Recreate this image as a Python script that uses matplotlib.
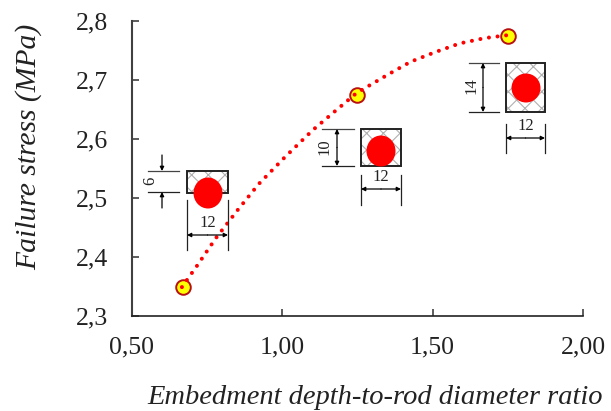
import matplotlib
matplotlib.use("Agg")
import matplotlib.pyplot as plt
from matplotlib.patches import Rectangle, Ellipse

plt.rcParams['font.family'] = ['Liberation Serif', 'DejaVu Serif']
plt.rcParams['hatch.linewidth'] = 0.8

ratio_points = [0.67, 1.25, 1.75]
stress_points = [2.35, 2.675, 2.775]
curve_ratio = [0.666, 0.716, 0.779, 0.852, 0.922, 1.008, 1.101, 1.168, 1.247,
               1.354, 1.427, 1.507, 1.59, 1.673, 1.749]
curve_stress = [2.349, 2.385, 2.432, 2.480, 2.524, 2.569, 2.615, 2.644, 2.678,
                2.710, 2.731, 2.747, 2.762, 2.771, 2.776]
x_ticks = [0.5, 1.0, 1.5, 2.0]
x_labels = ['0,50', '1,00', '1,50', '2,00']
y_ticks = [2.3, 2.4, 2.5, 2.6, 2.7, 2.8]
y_labels = ['2,3', '2,4', '2,5', '2,6', '2,7', '2,8']

W, H = 611, 411
fig = plt.figure(figsize=(W/100, H/100), dpi=100)
L, R, T, B = 132, 583, 21, 316
ax = fig.add_axes([L/W, 1-B/H, (R-L)/W, (B-T)/H])
ax.set_xlim(0.5, 2.0)
ax.set_ylim(2.3, 2.8)
for s in ('top', 'right'):
    ax.spines[s].set_visible(False)
ax.spines['left'].set_linewidth(1.5)
ax.spines['left'].set_color('#404040')
ax.spines['bottom'].set_linewidth(1.2)
ax.spines['bottom'].set_color('#222222')
ax.set_xticks(x_ticks, x_labels)
ax.set_yticks(y_ticks, y_labels)
ax.tick_params(direction='in', length=5, width=1.1, color='#303030', labelsize=18.5,
               labelcolor='#222222')
ax.tick_params(axis='x', pad=15)
ax.tick_params(axis='y', pad=17)

ax.plot(curve_ratio, curve_stress, color='#ff0000', lw=2.9,
        linestyle=(0, (0.01, 2.14)), dash_capstyle='round', zorder=3)
ax.plot(ratio_points, stress_points, 'o', ms=10.5, mfc='#ffff00', mec='#b81010', mew=1.4,
        zorder=2, clip_on=False)

ov = fig.add_axes([0, 0, 1, 1], facecolor='none')
ov.set_xlim(0, W)
ov.set_ylim(H, 0)
ov.axis('off')

def arrow(x0, y0, x1, y1):
    ov.annotate('', xy=(x1, y1), xytext=(x0, y0),
                arrowprops=dict(arrowstyle='-|>', color='black', lw=0.9, mutation_scale=6,
                                shrinkA=0, shrinkB=0))

def section(x0, x1, y0, y1, cx, cy, rx, ry):
    ov.add_patch(Rectangle((x0, y0), x1-x0, y1-y0, fc='white', ec='#b0b0b0', hatch='xx', lw=0))
    ov.add_patch(Rectangle((x0, y0), x1-x0, y1-y0, fc='none', ec='#222222', lw=1.4))
    ov.add_patch(Ellipse((cx, cy), 2*rx, 2*ry, fc='#ff0000', ec='none', zorder=4))

def width_dim(x0, x1, y0, y1, ya, yt):
    ov.plot([x0, x0], [y0, y1], color='#222222', lw=0.9)
    ov.plot([x1, x1], [y0, y1], color='#222222', lw=0.9)
    arrow((x0+x1)/2, ya, x0, ya)
    arrow((x0+x1)/2, ya, x1, ya)
    ov.text((x0+x1)/2, yt, '12', ha='center', va='center', fontsize=12, color='#222222')

def height_dim(x0, x1, y0, y1, xa, xt, yt, label, outside=False):
    ov.plot([x0, x1], [y0, y0], color='#444444', lw=0.9)
    ov.plot([x0, x1], [y1, y1], color='#222222', lw=0.9)
    if outside:
        arrow(xa, y0-16, xa, y0)
        arrow(xa, y1+16, xa, y1)
    else:
        arrow(xa, (y0+y1)/2, xa, y0)
        arrow(xa, (y0+y1)/2, xa, y1)
    ov.text(xt, yt, label, rotation=90, ha='center', va='center', fontsize=12, color='#222222')

section(187, 228, 171, 193, 208, 193, 14.5, 15.5)
height_dim(148, 179, 171, 192, 162, 150, 181, '6', outside=True)
width_dim(187, 228, 200, 250, 235, 223)

section(361, 401, 129, 166, 381, 151, 14.5, 15.5)
height_dim(322, 354, 129, 166, 337, 324, 147, '10')
width_dim(361, 401, 175, 205, 189, 177)

section(506, 545, 63, 112, 526, 88, 14.5, 14.5)
height_dim(469, 499, 63, 112, 483, 471, 86, '14')
width_dim(506, 545, 124, 153, 138, 126)

ov.text(29, 147, 'Failure stress (MPa)', rotation=90, ha='center', va='center',
        style='italic', fontsize=21.3, color='#222222')
ov.text(147, 397, 'Embedment depth-to-rod diameter ratio', ha='left', va='center',
        style='italic', fontsize=20.5, color='#222222')

fig.savefig('out.png', dpi=100)
